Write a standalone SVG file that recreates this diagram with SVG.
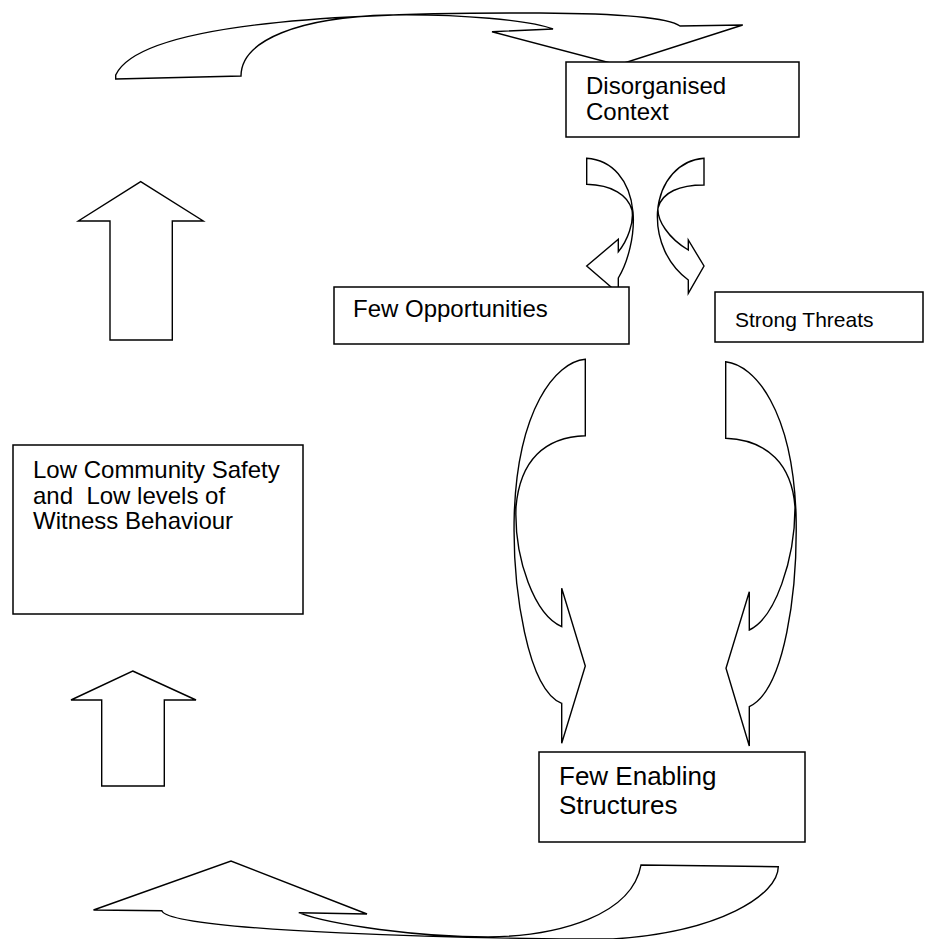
<svg xmlns="http://www.w3.org/2000/svg" width="925" height="939" viewBox="0 0 925 939">
<style>
.arrow{fill:#fff;stroke:#000;stroke-width:1.4;stroke-linejoin:miter}
.box{fill:#fff;stroke:#000;stroke-width:1.5}
.t{font-family:"Liberation Sans",Arial,sans-serif;fill:#000;white-space:pre}
</style>
<rect width="925" height="939" fill="#fff"/>
<g id="connectors">
<path id="arrow-top" class="arrow" d="M115.7,79 L241,76 C241,40 300,17 390,15 C460,14 530,20 553,29 L492,31.7 L618,65 L742.7,25 L680,26 C668,17 620,13.5 540,13 C350,12 140,22 115.7,75 L115.7,79 Z"/>
<path id="arrow-ctx-opp" class="arrow" d="M586.7,158.3 C612,160 630,180 633,212 C635,235 628,262 618.3,278 L618.3,293.3 L586.7,266 L618.3,239.3 L618.3,251.7 C628,240 634,222 632,210 C628,195 612,185 586.7,184.3 Z"/>
<path id="arrow-ctx-thr" class="arrow" d="M704,158.3 C680,160 660,180 657.5,212 C656,240 668,265 688.3,280 L688.3,293.3 L704,266 L688.3,240 L688.3,250 C668,238 657,220 658,208 C662,192 680,185 704,185 Z"/>
<path id="arrow-opp-enab" class="arrow" d="M585.3,359.3 C555,362 518,410 514.3,513 C512,590 528,690 561.7,703.3 L561.7,743.3 L585.3,666 L561.7,588.3 L561.7,626.7 C535,615 514,560 516,507 C520,460 545,437 585.3,435.7 Z"/>
<path id="arrow-thr-enab" class="arrow" d="M725.7,361.7 C755,365 792,410 796,513 C798,590 785,690 749.3,706.7 L749.3,746 L726,668.3 L749.3,591.7 L749.3,630 C775,618 795,560 795,507 C792,465 768,440 725.7,438.3 Z"/>
<path id="arrow-bottom" class="arrow" d="M93.5,910 L231,861 L367,914 L298.8,912.7 C330,925 420,937 488,937 C560,936 632,915 641,865 L778.3,866.7 C778,895 720,932 613,939 C480,939 170,932 161.8,910.7 Z"/>
<polygon id="arrow-up-1" class="arrow" points="140.7,181.7 203.3,221 172.3,221 172.3,340 110,340 110,221 78.3,221"/>
<polygon id="arrow-up-2" class="arrow" points="132.7,671 196,700 164.3,700 164.3,786 101.7,786 101.7,700 71,700"/>
</g>
<g id="node-disorganised">
<rect class="box" x="566" y="62" width="233" height="75"/>
<text class="t" font-size="24" x="586" y="94">Disorganised</text>
<text class="t" font-size="24" x="586" y="120">Context</text>
</g>
<g id="node-opportunities">
<rect class="box" x="334" y="287" width="295" height="57"/>
<text class="t" font-size="24" x="353" y="317">Few Opportunities</text>
</g>
<g id="node-threats">
<rect class="box" x="715" y="292" width="208" height="50"/>
<text class="t" font-size="21" x="735" y="327">Strong Threats</text>
</g>
<g id="node-safety">
<rect class="box" x="13" y="445" width="290" height="169"/>
<text class="t" font-size="24" x="33" y="478">Low Community Safety</text>
<text class="t" font-size="24" x="33" y="503.5">and  Low levels of</text>
<text class="t" font-size="24" x="33" y="529">Witness Behaviour</text>
</g>
<g id="node-enabling">
<rect class="box" x="539" y="752" width="266" height="90"/>
<text class="t" font-size="26" x="559" y="785">Few Enabling</text>
<text class="t" font-size="26" x="559" y="814">Structures</text>
</g>
</svg>
